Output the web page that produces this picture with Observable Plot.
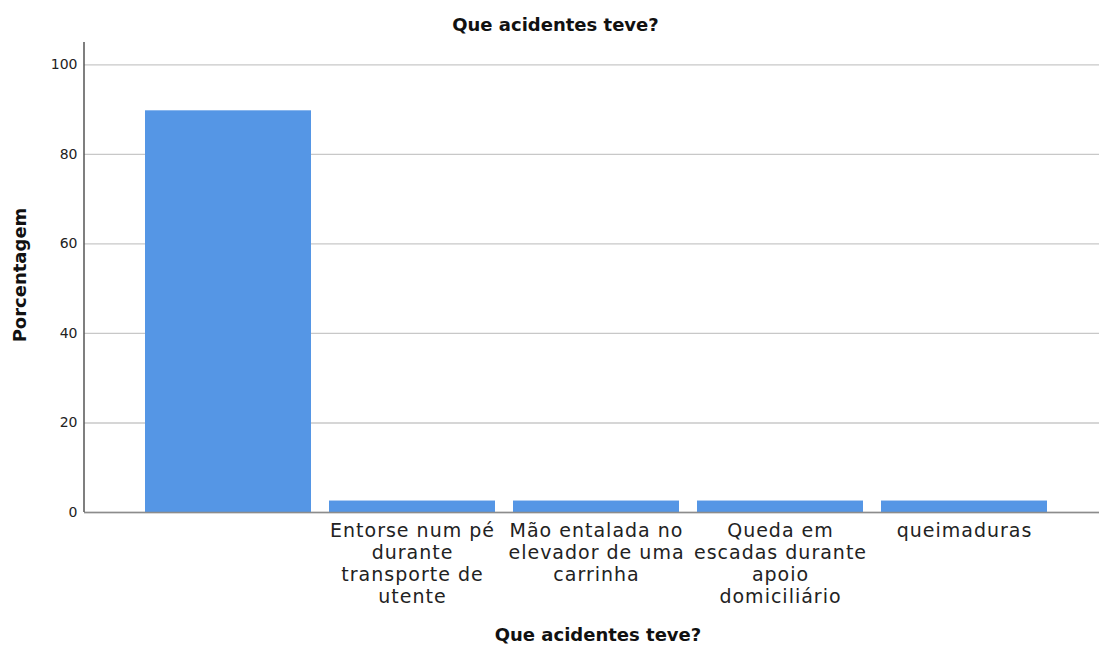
<!DOCTYPE html>
<html>
<head>
<meta charset="utf-8">
<script src="https://cdn.jsdelivr.net/npm/d3@7"></script>
<script src="https://cdn.jsdelivr.net/npm/@observablehq/plot@0.6"></script>
<style>
  body { margin: 0; background: #fff; font-family: "DejaVu Sans", sans-serif; }
  #title { height: 38px; width: 1099px; text-align: center; font-weight: bold; font-size: 18px; line-height: 50px; padding-left: 12px; box-sizing: border-box; color: #111; }
  g[aria-label="x-axis tick label"] text { letter-spacing: 1px; }
</style>
</head>
<body>
<div id="title">Que acidentes teve?</div>
<div id="chart"></div>
<script>
const categories = ["", "Entorse num pé durante transporte de utente", "Mão entalada no elevador de uma carrinha", "Queda em escadas durante apoio domiciliário", "queimaduras"];
const tickLabels = ["", "Entorse num pé\ndurante\ntransporte de\nutente", "Mão entalada no\nelevador de uma\ncarrinha", "Queda em\nescadas durante\napoio\ndomiciliário", "queimaduras"];
const percentages = [89.74, 2.56, 2.56, 2.56, 2.56];
const yTicks = [0, 20, 40, 60, 80, 100];
const yTitle = "Porcentagem";
const xTitle = "Que acidentes teve?";

const data = categories.map((c, i) => ({category: c, pct: percentages[i]}));
const labelOf = new Map(categories.map((c, i) => [c, tickLabels[i]]));

const chart = Plot.plot({
  width: 1099,
  height: 609,
  marginTop: 4,
  marginLeft: 84,
  marginRight: 0,
  marginBottom: 135,
  style: {fontFamily: "DejaVu Sans, sans-serif", color: "#222", background: "#fff"},
  x: {domain: categories, range: [134.2, 1058.2], paddingInner: 0.1, paddingOuter: 0.05},
  y: {domain: [0, 105]},
  marks: [
    Plot.gridY(yTicks, {stroke: "#c8c8c8", strokeOpacity: 1, strokeWidth: 1.3}),
    Plot.barY(data, {x: "category", y: "pct", fill: "#5596e5"}),
    Plot.ruleY([0], {stroke: "#8c8c8c", strokeWidth: 1.5}),
    Plot.axisY(yTicks, {tickSize: 0, tickPadding: 7, fontSize: 14, label: null}),
    Plot.axisX({tickSize: 0, tickPadding: 9, fontSize: 19, lineHeight: 1.16, tickFormat: d => labelOf.get(d), label: null})
  ]
});
document.getElementById("chart").appendChild(chart);
const svg = d3.select(chart);
// y axis line
svg.append("line").attr("x1", 84).attr("x2", 84).attr("y1", 4).attr("y2", 474).attr("stroke", "#555").attr("stroke-width", 1.5);
// axis titles
svg.append("text").text(yTitle)
  .attr("transform", "translate(26,237) rotate(-90)")
  .attr("text-anchor", "middle")
  .attr("font-size", 18).attr("font-weight", "bold").attr("fill", "#111");
svg.append("text").text(xTitle)
  .attr("x", 598).attr("y", 603)
  .attr("text-anchor", "middle")
  .attr("font-size", 18).attr("font-weight", "bold").attr("fill", "#111");
</script>
</body>
</html>
